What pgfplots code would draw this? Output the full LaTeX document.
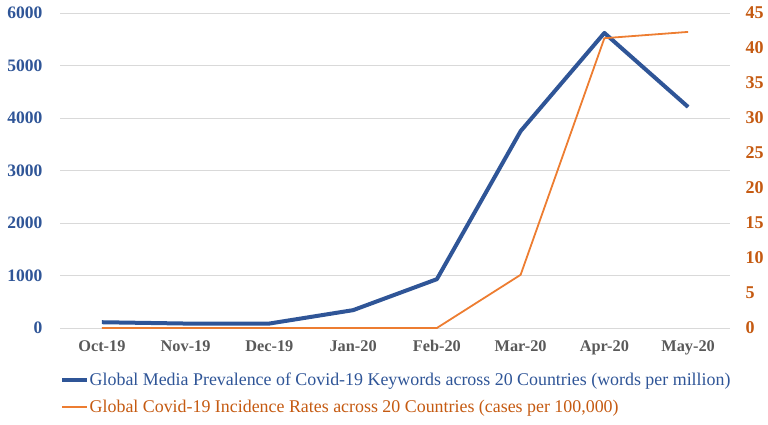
\documentclass[border=0pt]{standalone}
\usepackage{pgfplots}
\pgfplotsset{compat=1.18}
\usepackage{fontspec}
\setmainfont{Liberation Serif}
\definecolor{cblue}{HTML}{2F5597}
\definecolor{ctblue}{HTML}{2F5597}
\definecolor{corange}{HTML}{ED7D31}
\definecolor{ctorange}{HTML}{C55A11}
\definecolor{cgray}{HTML}{595959}
\definecolor{cgrid}{HTML}{D9D9D9}
\pgfplotsset{legline/.style={legend image code/.code={\draw[##1] (0pt,0pt) -- (25pt,0pt);}}}
\begin{document}
\begin{tikzpicture}[x=1pt,y=1pt]
\useasboundingbox (0,0) rectangle (768,424);
\begin{axis}[
  at={(60pt,96pt)}, anchor=south west,
  scale only axis, width=670pt, height=315pt,
  xmin=-0.5, xmax=7.5, ymin=0, ymax=6000,
  xtick={0,...,7},
  xticklabels={Oct-19,Nov-19,Dec-19,Jan-20,Feb-20,Mar-20,Apr-20,May-20},
  ytick={0,1000,...,6000},
  axis y line*=left, axis x line*=bottom,
  axis line style={draw=none},
  major tick length=0pt,
  ymajorgrids, grid style={cgrid, line width=0.8pt},
  /pgf/number format/assume math mode=true,
  /pgf/number format/1000 sep={},
  yticklabel style={font=\fontsize{17.5}{20}\selectfont\bfseries, text=ctblue, anchor=east, xshift=-14pt},
  xticklabel style={font=\fontsize{16.3}{19}\selectfont\bfseries, text=cgray, anchor=base, yshift=-23pt},
  legend style={at={(0,0)}, anchor=north west, yshift=-44pt, draw=none, fill=none, inner sep=0pt,
    font=\fontsize{17.9}{21}\selectfont, row sep=12pt, nodes={inner sep=0.5pt}},
  legend cell align=left,
  legline,
  clip=false,
]
\addplot[cblue, line width=4pt, line join=round] coordinates {
(0,110) (1,85) (2,85) (3,340) (4,930) (5,3750) (6,5620) (7,4210)};
\addlegendentry{\textcolor{ctblue}{Global Media Prevalence of Covid-19 Keywords across 20 Countries (words per million)}}
\addlegendimage{corange, line width=2pt}
\addlegendentry{\textcolor{ctorange}{Global Covid-19 Incidence Rates across 20 Countries (cases per 100,000)}}
\end{axis}
\begin{axis}[
  at={(60pt,96pt)}, anchor=south west,
  scale only axis, width=670pt, height=315pt,
  xmin=-0.5, xmax=7.5, ymin=0, ymax=45,
  ytick={0,5,...,45},
  axis y line*=right, hide x axis,
  axis line style={draw=none},
  major tick length=0pt,
  /pgf/number format/assume math mode=true,
  yticklabel style={font=\fontsize{18}{20}\selectfont\bfseries, text=ctorange, anchor=west, xshift=12pt},
  clip=false,
]
\addplot[corange, line width=1.8pt, line join=round] coordinates {
(0,0) (1,0) (2,0) (3,0) (4,0) (5,7.6) (6,41.4) (7,42.3)};
\end{axis}
\end{tikzpicture}
\end{document}
